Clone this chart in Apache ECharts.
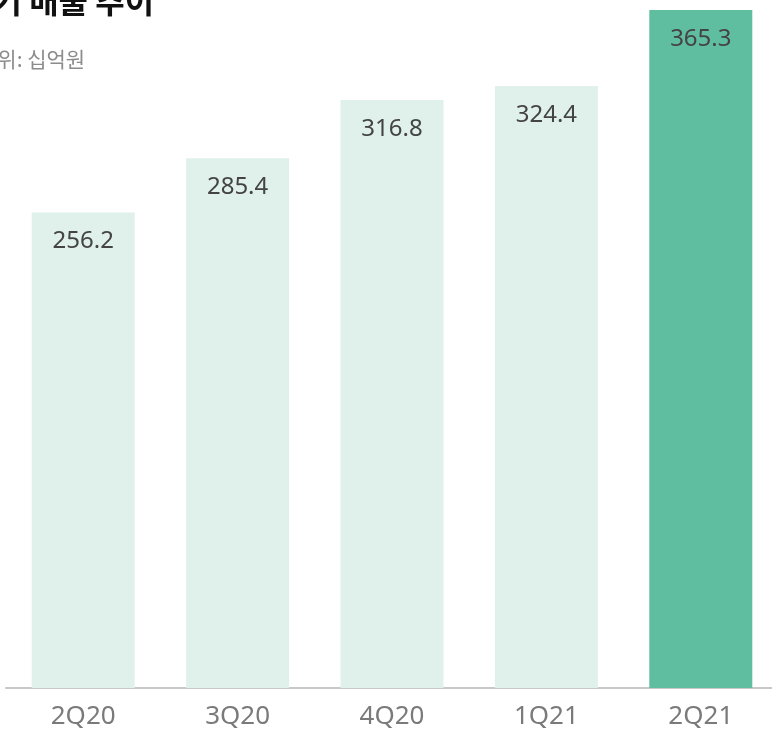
<!DOCTYPE html>
<html>
<head>
<meta charset="utf-8">
<script src="https://cdn.jsdelivr.net/npm/echarts@6/dist/echarts.min.js"></script>
<style>
html,body{margin:0;padding:0;background:#fff;}
#c{width:772px;height:729px;}
</style>
</head>
<body>
<div id="c"></div>
<script>
const titleText = '분기 매출 추이';
const subtitleText = '단위: 십억원';
const categories = ['2Q20', '3Q20', '4Q20', '1Q21', '2Q21'];
const sales = [256.2, 285.4, 316.8, 324.4, 365.3];
const highlightIndex = 4;

const FONT = '"Noto Sans CJK KR", "Noto Sans", sans-serif';
const NUMFONT = '"Noto Sans", "Noto Sans CJK KR", sans-serif';
const chart = echarts.init(document.getElementById('c'));
chart.setOption({
  animation: false,
  backgroundColor: '#ffffff',
  graphic: [
    { type: 'text', left: -37, top: -15,
      style: { text: titleText, font: 'bold 32px ' + FONT, fill: '#111' } },
    { type: 'text', left: -22, top: 49,
      style: { text: subtitleText, font: '21px ' + FONT, fill: '#8c8c8c' } }
  ],
  grid: { left: 6, width: 772, top: 10, bottom: 41, outerBoundsMode: 'none', containLabel: false },
  xAxis: {
    type: 'category',
    data: categories,
    axisLine: { lineStyle: { color: '#c8c8c8', width: 2 } },
    axisTick: { show: false },
    axisLabel: { color: '#7a7a7a', fontSize: 26, fontFamily: NUMFONT, margin: 16 }
  },
  yAxis: { type: 'value', min: 0, max: 365.3, show: false, splitLine: { show: false } },
  series: [{
    type: 'bar',
    barWidth: 103,
    data: sales.map((v, i) => ({
      value: v,
      itemStyle: { color: i === highlightIndex ? '#60bea0' : '#dff1ea' }
    })),
    label: {
      show: true,
      position: 'insideTop',
      distance: 17,
      color: '#444',
      fontSize: 24,
      fontFamily: NUMFONT
    }
  }]
});
</script>
</body>
</html>
